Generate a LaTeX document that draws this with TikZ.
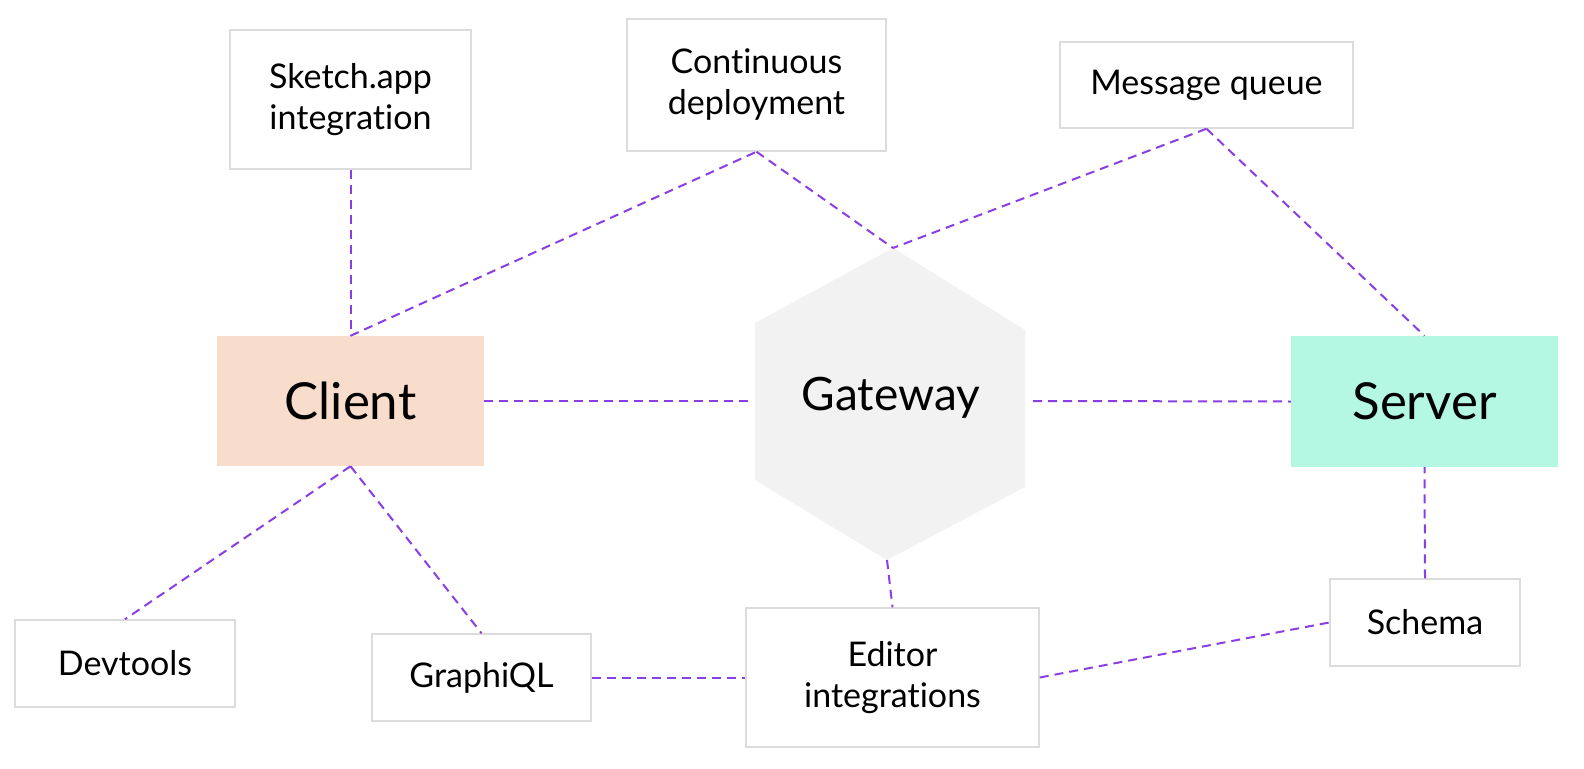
\documentclass[tikz,border=0pt]{standalone}
\usepackage{fontspec}
\setmainfont[RawFeature={-liga;-dlig}]{Lato}
\definecolor{linkc}{HTML}{8A3FE4}
\definecolor{boxline}{HTML}{DCDCDC}
\definecolor{clientfill}{HTML}{F9DDCC}
\definecolor{serverfill}{HTML}{B4F8E4}
\definecolor{gwfill}{HTML}{F2F2F2}
\begin{document}
\begin{tikzpicture}[x=1pt,y=-1pt,
  box/.style={draw=boxline,line width=1.5pt,fill=white,inner sep=0pt,align=center,
    font=\fontsize{34}{41}\selectfont},
  bigbox/.style={draw=none,inner sep=0pt,font=\fontsize{51}{60}\selectfont},
  link/.style={draw=linkc,line width=2pt,dash pattern=on 9pt off 6pt}]
\useasboundingbox (0,0) rectangle (1584,768);
\fill[white] (0,0) rectangle (1584,768);

% boxes
\node[box,minimum width=241pt,minimum height=139pt] (sketch) at (350.5,99.5) {Sketch.app\\integration};
\node[box,minimum width=259pt,minimum height=132pt] (cont) at (756.5,85) {Continuous\\deployment};
\node[box,minimum width=293pt,minimum height=86pt] (mq) at (1206.5,85) {Message queue};
\node[bigbox,fill=clientfill,minimum width=267pt,minimum height=130pt] (client) at (350.5,401) {Client};
\node[bigbox,fill=serverfill,minimum width=267pt,minimum height=131pt] (server) at (1424.5,401.5) {Server};
\node[box,minimum width=220pt,minimum height=87pt] (devtools) at (125,663.5) {Devtools};
\node[box,minimum width=219pt,minimum height=87pt] (graphiql) at (481.5,677.5) {GraphiQL};
\node[box,minimum width=293pt,minimum height=139pt] (editor) at (892.5,677.5) {Editor\\integrations};
\node[box,minimum width=190pt,minimum height=87pt] (schema) at (1425,622.5) {Schema};

% gateway hexagon
\coordinate (gwT) at (893,248);
\coordinate (gwUR) at (1025,330);
\coordinate (gwLR) at (1025,487);
\coordinate (gwB) at (887,560);
\coordinate (gwLL) at (755,480);
\coordinate (gwUL) at (755,323);
\coordinate (gwL) at (750,401);
\coordinate (gwR) at (1033,401);
\fill[gwfill] (gwT) -- (gwUR) -- (gwLR) -- (gwB) -- (gwLL) -- (gwUL) -- cycle;
\node[inner sep=0pt,font=\fontsize{46}{54}\selectfont] (gw) at (891,398) {Gateway};

% connectors
\draw[link] (sketch.south) -- (client.north);
\draw[link] (client.north) -- (cont.south);
\draw[link] (cont.south) -- (gwT);
\draw[link] (mq.south) -- (gwT);
\draw[link] (mq.south) -- (server.north);
\draw[link] (client.east) -- (gwL);
\draw[link] (gwR) -- (server.west);
\draw[link] (gwB) -- (editor.north);
\draw[link] (client.south) -- (devtools.north);
\draw[link] (client.south) -- (graphiql.north);
\draw[link] (graphiql.east) -- (editor.west);
\draw[link] (editor.east) -- (schema.west);
\draw[link] (schema.north) -- (server.south);
\end{tikzpicture}
\end{document}
